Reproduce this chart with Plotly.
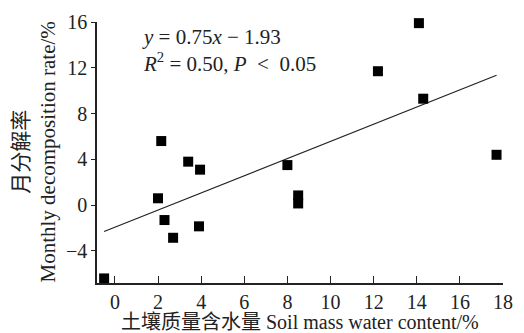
import plotly.graph_objects as go

# Data
water_content = [-0.5, 2.0, 2.15, 2.3, 2.7, 3.4, 3.95, 3.9, 8.0, 8.5, 8.5, 12.2, 14.1, 14.3, 17.7]
decomp_rate = [-6.4, 0.6, 5.6, -1.3, -2.85, 3.8, 3.1, -1.85, 3.5, 0.85, 0.15, 11.7, 15.9, 9.3, 4.4]
slope = 0.75
intercept = -1.93
x_ticks = [0, 2, 4, 6, 8, 10, 12, 14, 16, 18]
y_ticks = [-4, 0, 4, 8, 12, 16]

fit_x = [min(water_content), max(water_content)]
fit_y = [slope * v + intercept for v in fit_x]

FONT = "Liberation Serif, Times New Roman, Noto Sans CJK SC, serif"

fig = go.Figure()
fig.add_trace(go.Scatter(x=fit_x, y=fit_y, mode="lines",
                         line=dict(color="#222", width=1.2), showlegend=False))
fig.add_trace(go.Scatter(x=water_content, y=decomp_rate, mode="markers",
                         marker=dict(symbol="square", size=10, color="black"),
                         showlegend=False, cliponaxis=False))

fig.update_layout(
    width=524, height=333,
    margin=dict(l=97, r=11, t=21, b=50),
    paper_bgcolor="white", plot_bgcolor="white",
    font=dict(family=FONT, size=20, color="#222"),
    xaxis=dict(range=[-0.83, 18], tickvals=x_ticks, ticks="inside", ticklen=7,
               tickcolor="#222", showline=True, linecolor="#222", linewidth=1.5,
               showgrid=False, zeroline=False, mirror=False,
               tickfont=dict(size=20)),
    yaxis=dict(range=[-6.8, 16], tickvals=y_ticks, ticks="outside", ticklen=4,
               tickcolor="#222", showline=True, linecolor="#222", linewidth=1.5,
               showgrid=False, zeroline=False, mirror=False,
               tickfont=dict(size=20)),
    annotations=[
        dict(text="<i>y</i> = 0.75<i>x</i> − 1.93<br><i>R</i><sup>2</sup> = 0.50, <i>P</i>  <  0.05",
             xref="paper", yref="paper", x=0.105, y=0.995, xanchor="left", yanchor="top",
             align="left", showarrow=False, font=dict(size=21)),
        dict(text="土壤质量含水量 Soil mass water content/%",
             xref="paper", yref="paper", x=0.5, y=0, yshift=-39, xanchor="center",
             yanchor="middle", showarrow=False, font=dict(size=20)),
        dict(text="月分解率<br>Monthly decomposition rate/%",
             xref="paper", yref="paper", x=0, xshift=-63, y=0.5, xanchor="center",
             yanchor="middle", textangle=-90, showarrow=False, font=dict(size=21)),
    ],
)

fig.write_html("out.html")
